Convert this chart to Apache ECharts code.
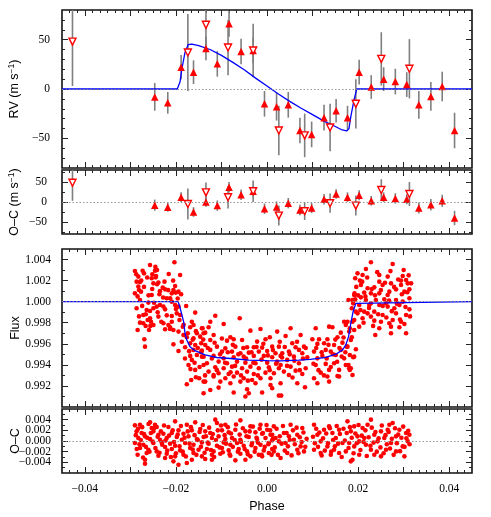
<!DOCTYPE html>
<html><head><meta charset="utf-8">
<script src="https://cdn.jsdelivr.net/npm/echarts@6/dist/echarts.min.js"></script>
<style>html,body{margin:0;padding:0;background:#fff}#c{width:491px;height:517px}</style>
</head><body><div id="c"></div>
<script>
// ---------------- DATA ----------------
// RV, filled triangles: phase, RV (m/s), error, O-C
const rvFilledPhase = [-0.02464,-0.02178,-0.01885,-0.01613,-0.01340,-0.01091,-0.00833,-0.00569,-0.00304,-0.00055,0.00210,0.00467,0.00723,0.00980,0.01252,0.01517,0.01767,0.02023,0.02288,0.02561,0.02817,0.03068,0.03333,0.03597,0.03846,0.04117];
const rvFilledValue = [-8,-14,22,17,41,25.5,66,38,39,-15,-18,-16,-42,-46,-29,-22,-29,17,2,10,7.5,4.5,-16,-7.5,2.5,-42];
const rvFilledErr   = [14,11,12.5,12,12,13,13,13,13,13,14,13,13,13,13,12,12,12.5,12,12,13,12.5,14,14.5,15,18];
const rvFilledResid = [-8,-13,12,-25,0,-9,37,18,27,-17,-12.5,-3,-20,-15,7,20,12,17,3,12,9,7,-15,-7,3,-40];
// RV, open inverted triangles
const rvOpenPhase = [-0.04270,-0.01737,-0.01340,-0.00855,-0.00304,0.00260,0.00827,0.01385,0.01950,0.02509,0.03126];
const rvOpenValue = [48,37,65,42,39,-42,-47,-39,-15,30.5,20.5];
const rvOpenErr   = [45,39,25,28,27,25,22,24,25,27,30];
const rvOpenResid = [48,-5,24,12,27,-34,-23,-3,-9,30,20];
// RV model curve
const rvModelPhase = [-0.045,-0.0197,-0.0191,-0.0187,-0.0180,-0.0173,-0.0165,-0.0150,-0.0125,-0.0100,-0.0075,-0.0050,-0.0025,0,0.0025,0.0050,0.0075,0.0100,0.0125,0.0150,0.0165,0.0175,0.0180,0.0184,0.0191,0.0197,0.045];
const rvModelValue = [0,0,7,20,37,45,45.5,44,40,34,27,19.5,11,3,-5,-12.5,-19.5,-26,-32.5,-38,-41.5,-42.5,-40,-28,-11,0,0];
// Flux model curve
const fluxModelPhase = [-0.045,-0.0195,-0.0190,-0.0186,-0.0183,-0.0180,-0.0176,-0.0169,-0.0158,-0.0136,-0.0110,-0.0073,-0.0040,0.0000,0.0030,0.0070,0.0095,0.0129,0.0151,0.0166,0.0173,0.0179,0.0184,0.0189,0.0195,0.0198,0.045];
const fluxModelValue = [1.0000,1.0000,0.9993,0.9986,0.9981,0.9970,0.99636,0.99573,0.99535,0.99494,0.99470,0.99458,0.99445,0.99440,0.99438,0.99445,0.99453,0.99472,0.99501,0.99542,0.99589,0.99668,0.99795,0.99905,0.99984,1.0000,1.0000];
// Photometry points [phase, relative flux]
const fluxPoints = [
[-0.02032,1.00374],[-0.02568,1.00348],[-0.02899,1.00291],[-0.02730,1.00294],[-0.02700,1.00269],[-0.02458,1.00294],[-0.02414,1.00301],[-0.02517,1.00260],[-0.02436,1.00244],[-0.02157,1.00263],
[-0.01907,1.00253],[-0.02825,1.00238],[-0.02531,1.00222],[-0.02443,1.00231],[-0.02862,1.00190],[-0.02788,1.00187],[-0.02494,1.00174],[-0.02414,1.00165],[-0.02384,1.00181],[-0.02825,1.00143],
[-0.02289,1.00133],[-0.02017,1.00149],[-0.02237,1.00117],[-0.02054,1.00111],[-0.02899,1.00079],[-0.02766,1.00095],[-0.02810,1.00111],[-0.02531,1.00064],[-0.02362,1.00070],[-0.02090,1.00079],
[-0.02002,1.00086],[-0.01885,1.00070],[-0.01943,1.00095],[-0.02201,1.00032],[-0.02127,1.00032],[-0.02788,1.00016],[-0.02605,0.99991],[-0.02348,0.99969],[-0.02421,0.99953],[-0.02494,0.99937],
[-0.02274,0.99953],[-0.02237,0.99927],[-0.02017,0.99969],[-0.01943,0.99953],[-0.01775,0.99959],[-0.02862,0.99937],[-0.02641,0.99921],[-0.02568,0.99912],[-0.02715,0.99874],[-0.02384,0.99858],
[-0.02090,0.99864],[-0.01980,0.99889],[-0.01907,0.99874],[-0.01921,0.99826],[-0.01576,0.99896],[-0.02788,0.99801],[-0.02715,0.99795],[-0.02619,0.99826],[-0.02568,0.99842],[-0.02546,0.99810],
[-0.02590,0.99731],[-0.02663,0.99769],[-0.02494,0.99779],[-0.02274,0.99795],[-0.02090,0.99810],[-0.02164,0.99779],[-0.02127,0.99757],[-0.02237,0.99738],[-0.01650,0.99810],[-0.01613,0.99779],
[-0.01686,0.99757],[-0.02840,0.99731],[-0.02054,0.99731],[-0.01943,0.99716],[-0.01848,0.99763],[-0.01833,0.99684],[-0.01760,0.99662],[-0.01414,0.99747],[-0.01539,0.99700],[-0.01613,0.99652],
[-0.01466,0.99668],[-0.01356,0.99706],[-0.02693,0.99643],[-0.02678,0.99573],[-0.02054,0.99595],[-0.01943,0.99532],[-0.01797,0.99567],[-0.01686,0.99605],[-0.01576,0.99589],[-0.01444,0.99605],
[-0.01613,0.99542],[-0.01539,0.99494],[-0.01429,0.99478],[-0.01686,0.99485],[-0.01650,0.99447],[-0.01723,0.99399],[-0.01576,0.99352],[-0.01488,0.99273],[-0.01561,0.99282],[-0.01664,0.99257],
[-0.01760,0.99216],[-0.01392,0.99241],
[-0.01135,0.99867],[-0.00599,0.99842],[-0.01245,0.99810],[-0.00951,0.99788],[-0.01429,0.99747],[-0.01282,0.99757],[-0.00364,0.99725],[-0.00143,0.99741],[0.00224,0.99716],[-0.01392,0.99700],
[-0.01172,0.99684],[-0.00804,0.99662],[-0.00731,0.99643],[-0.00878,0.99630],[-0.00547,0.99636],[-0.00033,0.99643],[0.00062,0.99662],[-0.00217,0.99621],[-0.01245,0.99636],[-0.01356,0.99589],
[-0.01098,0.99573],[-0.00915,0.99557],[-0.00694,0.99573],[-0.00437,0.99567],[-0.00290,0.99567],[-0.00107,0.99564],[0.00114,0.99573],[0.00261,0.99573],[-0.01429,0.99535],[-0.01245,0.99542],
[-0.00988,0.99526],[-0.00768,0.99526],[-0.00584,0.99510],[-0.00400,0.99516],[-0.00180,0.99526],[0.00004,0.99532],[0.00187,0.99510],[-0.01392,0.99478],[-0.01172,0.99485],[-0.00951,0.99462],
[-0.00731,0.99472],[-0.00511,0.99478],[-0.00290,0.99485],[-0.00070,0.99485],[0.00114,0.99472],[0.00298,0.99485],[-0.01319,0.99415],[-0.01062,0.99431],[-0.00878,0.99415],[-0.00658,0.99431],
[-0.00474,0.99421],[-0.00253,0.99415],[0.00004,0.99421],[0.00224,0.99431],[-0.01392,0.99399],[-0.01135,0.99377],[-0.00951,0.99368],[-0.00768,0.99383],[-0.00547,0.99368],[-0.00364,0.99383],
[-0.00180,0.99368],[0.00041,0.99377],[0.00261,0.99368],[-0.01282,0.99336],[-0.01062,0.99320],[-0.00841,0.99314],[-0.00658,0.99326],[-0.00437,0.99336],[-0.00290,0.99314],[-0.00033,0.99326],
[0.00151,0.99320],[-0.01172,0.99289],[-0.00915,0.99273],[-0.00731,0.99289],[-0.00511,0.99273],[-0.00327,0.99257],[-0.00143,0.99273],[0.00077,0.99273],[-0.01356,0.99241],[-0.01025,0.99241],
[-0.00804,0.99225],[-0.00584,0.99241],[-0.00253,0.99225],[0.00077,0.99209],[-0.01245,0.99162],[-0.01062,0.99184],[-0.00437,0.99168],[0.00114,0.99178],[-0.00107,0.99137],[-0.01392,0.99130],
[-0.00731,0.99137],[-0.00400,0.99130],[-0.00474,0.99099],[0.00261,0.99108],[-0.01172,0.99304],
[0.00518,0.99747],[0.01069,0.99747],[0.01363,0.99763],[0.01436,0.99757],[0.01693,0.99810],[0.01730,0.99779],[0.00408,0.99674],[0.00738,0.99684],[0.00995,0.99643],[0.01142,0.99643],
[0.01326,0.99643],[0.01620,0.99706],[0.01547,0.99662],[0.01804,0.99716],[0.00555,0.99605],[0.00628,0.99567],[0.00812,0.99573],[0.01106,0.99599],[0.01253,0.99605],[0.01473,0.99589],
[0.01657,0.99611],[0.01862,0.99662],[0.00334,0.99510],[0.00481,0.99526],[0.00702,0.99542],[0.00775,0.99510],[0.01032,0.99526],[0.01289,0.99542],[0.01399,0.99526],[0.01620,0.99542],
[0.01767,0.99573],[0.00444,0.99447],[0.00591,0.99478],[0.00885,0.99472],[0.01106,0.99462],[0.01216,0.99485],[0.01510,0.99494],[0.01693,0.99462],[0.01914,0.99478],[0.00298,0.99399],
[0.00518,0.99383],[0.00702,0.99415],[0.00849,0.99368],[0.01069,0.99399],[0.01289,0.99409],[0.01473,0.99415],[0.01730,0.99399],[0.00371,0.99336],[0.00628,0.99345],[0.01179,0.99326],
[0.01363,0.99352],[0.01583,0.99352],[0.01804,0.99368],[0.00481,0.99304],[0.00775,0.99314],[0.01032,0.99273],[0.01326,0.99289],[0.01547,0.99295],[0.01877,0.99304],[0.00298,0.99225],
[0.00665,0.99225],[0.01106,0.99225],[0.01363,0.99241],[0.01583,0.99289],[0.00834,0.99187],[0.00312,0.99108],[0.01951,0.99548],
[0.01789,1.00016],[0.01892,0.99984],[0.01936,1.00022],[0.01921,1.00079],[0.01862,0.99937],[0.01951,0.99905],[0.01877,0.99810],[0.01914,0.99731],[0.01818,0.99747],
[0.02281,1.00374],[0.02759,1.00358],[0.02171,1.00310],[0.01987,1.00269],[0.02098,1.00253],[0.01936,1.00222],[0.02039,1.00200],[0.02649,1.00238],[0.02979,1.00244],[0.02465,1.00190],
[0.02722,1.00174],[0.03053,1.00206],[0.02208,1.00127],[0.02355,1.00136],[0.02538,1.00158],[0.02942,1.00158],[0.03089,1.00174],[0.02832,1.00117],[0.03126,1.00117],[0.01914,1.00064],
[0.02134,1.00086],[0.02281,1.00079],[0.02465,1.00079],[0.02685,1.00095],[0.03016,1.00095],[0.01877,1.00016],[0.02061,1.00041],[0.02171,1.00016],[0.02391,1.00016],[0.02575,1.00022],
[0.02832,1.00016],[0.02979,1.00000],[0.03126,1.00032],[0.02024,0.99969],[0.02245,0.99969],[0.02465,0.99969],[0.02649,0.99953],[0.02796,0.99937],[0.02906,0.99969],[0.03126,0.99927],
[0.01987,0.99889],[0.02208,0.99889],[0.02355,0.99905],[0.02538,0.99874],[0.02832,0.99889],[0.03053,0.99874],[0.01914,0.99826],[0.02098,0.99842],[0.02355,0.99820],[0.02502,0.99810],
[0.02685,0.99795],[0.02942,0.99810],[0.02024,0.99763],[0.02465,0.99747],[0.02722,0.99763],[0.02906,0.99757],[0.03016,0.99788],[0.02377,0.99684],[0.02722,0.99700],[0.03053,0.99700],
[0.01767,0.99810],[0.01840,0.99636],[0.01752,0.99573],[0.01818,0.99494],[0.01892,0.99472],[0.01789,0.99399],[0.01840,0.99368],[0.01818,0.99352],[0.02061,1.00158],[0.02612,0.99984],
[0.02759,0.99826],[0.02281,0.99858],[0.02134,0.99905],[0.02465,1.00253],[0.02942,1.00200],[0.03163,1.00174],[0.02649,1.00064],[0.02281,0.99984],
[-0.02870,1.00260],[-0.02840,1.00050],[-0.02810,0.99860],[-0.02760,1.00200],[-0.02740,0.99960],[-0.02700,1.00140],[-0.02660,0.99880],[-0.02630,1.00230],[-0.02600,1.00060],[-0.02560,0.99770],
[-0.02520,1.00120],[-0.02480,0.99990],[-0.02450,1.00330],[-0.02400,0.99900],[-0.02350,1.00100],[-0.02320,0.99810],[-0.02280,1.00040],[-0.02250,1.00190],[-0.02200,0.99870],[-0.02170,1.00110],
[-0.02130,0.99740],[-0.02090,1.00000],[-0.02060,1.00200],[-0.02000,0.99930],[-0.01960,1.00030],
[-0.01870,0.99620],[-0.01830,0.99780],[-0.01800,0.99460],[-0.01740,0.99700],[-0.01710,0.99530],[-0.01680,0.99360],[-0.01630,0.99640],[-0.01590,0.99420],[-0.01560,0.99720],[-0.01520,0.99560],
[-0.01480,0.99380],[-0.01450,0.99520],[-0.01400,0.99640],[-0.01360,0.99300],
[-0.01300,0.99560],[-0.01210,0.99460],[-0.01150,0.99610],[-0.01100,0.99350],[-0.01030,0.99500],[-0.00990,0.99650],[-0.00920,0.99420],[-0.00860,0.99520],[-0.00800,0.99330],[-0.00750,0.99590],
[-0.00700,0.99390],[-0.00630,0.99500],[-0.00570,0.99300],[-0.00520,0.99560],[-0.00460,0.99460],[-0.00420,0.99250],[-0.00340,0.99520],[-0.00300,0.99420],[-0.00230,0.99570],[-0.00200,0.99300],
[-0.00120,0.99450],[-0.00080,0.99600],[0.00020,0.99490],[0.00060,0.99350],[0.00130,0.99540],[0.00200,0.99410],[0.00280,0.99620],[0.00330,0.99470],[0.00390,0.99570],[0.00440,0.99390],
[0.00500,0.99500],[0.00560,0.99280],[0.00600,0.99440],[0.00660,0.99620],[0.00720,0.99350],[0.00790,0.99460],[0.00850,0.99560],
[0.01020,0.99410],[0.01080,0.99560],[0.01130,0.99350],[0.01200,0.99520],[0.01250,0.99300],[0.01310,0.99460],[0.01350,0.99590],[0.01400,0.99380],[0.01450,0.99500],[0.01500,0.99640],
[0.01540,0.99430],[0.01590,0.99560],[0.01640,0.99480],[0.01680,0.99660],[0.01720,0.99520],
[0.01960,1.00140],[0.02000,1.00060],[0.02050,0.99920],[0.02090,1.00190],[0.02120,0.99800],[0.02160,1.00050],[0.02200,1.00230],[0.02240,0.99940],[0.02300,1.00120],[0.02330,0.99770],
[0.02370,1.00060],[0.02420,1.00280],[0.02440,0.99880],[0.02500,1.00110],[0.02540,0.99960],[0.02590,1.00180],[0.02620,0.99850],[0.02680,1.00010],[0.02710,1.00290],[0.02740,0.99910],
[0.02790,1.00140],[0.02850,0.99980],[0.02880,1.00210],[0.02920,0.99830],[0.02960,1.00070],[0.03000,1.00300],[0.03040,0.99950],[0.03080,1.00090],[0.03110,1.00250],[0.03140,0.99860]
];
// Photometry residuals [phase, O-C]
const fluxResid = [
[-0.02899,0.00293],[-0.02788,0.00306],[-0.02568,0.00350],[-0.02458,0.00306],[-0.02421,0.00262],[-0.02531,0.00243],[-0.02164,0.00262],[-0.02017,0.00368],[-0.01760,0.00306],[-0.01576,0.00350],
[-0.01135,0.00400],[-0.01099,0.00337],[-0.00915,0.00306],[-0.00584,0.00387],[-0.00364,0.00275],[-0.00143,0.00306],[0.00004,0.00212],[0.00150,0.00275],
[-0.02862,0.00181],[-0.02752,0.00149],[-0.02494,0.00181],[-0.02384,0.00118],[-0.02274,0.00137],[-0.02090,0.00149],[-0.01943,0.00200],[-0.01833,0.00137],[-0.01650,0.00200],[-0.01466,0.00225],
[-0.01356,0.00181],[-0.01246,0.00149],[-0.00988,0.00200],[-0.00841,0.00162],[-0.00695,0.00212],[-0.00474,0.00181],[-0.00254,0.00162],[-0.00107,0.00137],[0.00077,0.00118],
[-0.02825,0.00056],[-0.02678,0.00087],[-0.02568,0.00037],[-0.02348,0.00024],[-0.02201,0.00056],[-0.01980,0.00074],[-0.01870,0.00024],[-0.01723,0.00087],[-0.01539,0.00037],[-0.01392,0.00074],
[-0.01209,0.00056],[-0.01062,0.00087],[-0.00915,0.00037],[-0.00768,0.00056],[-0.00584,0.00024],[-0.00401,0.00074],[-0.00217,0.00037],[-0.00033,0.00056],[0.00114,0.00012],
[-0.02899,-0.00038],[-0.02715,-0.00070],[-0.02494,-0.00038],[-0.02311,-0.00026],[-0.02127,-0.00051],[-0.02017,-0.00088],[-0.01797,-0.00038],[-0.01613,-0.00070],[-0.01429,-0.00026],[-0.01282,-0.00051],
[-0.01099,-0.00088],[-0.00952,-0.00026],[-0.00805,-0.00070],[-0.00658,-0.00038],[-0.00511,-0.00088],[-0.00327,-0.00038],[-0.00143,-0.00070],[0.00040,-0.00038],
[-0.02788,-0.00132],[-0.02605,-0.00163],[-0.02421,-0.00195],[-0.02237,-0.00113],[-0.02090,-0.00151],[-0.01907,-0.00176],[-0.01686,-0.00132],[-0.01503,-0.00163],[-0.01319,-0.00151],[-0.01172,-0.00195],
[-0.00988,-0.00132],[-0.00841,-0.00176],[-0.00621,-0.00151],[-0.00437,-0.00195],[-0.00254,-0.00132],[-0.00070,-0.00176],[0.00114,-0.00151],
[-0.02840,-0.00257],[-0.02641,-0.00226],[-0.02384,-0.00276],[-0.02201,-0.00238],[-0.02017,-0.00288],[-0.01833,-0.00257],[-0.01613,-0.00226],[-0.01429,-0.00288],[-0.01209,-0.00257],[-0.01025,-0.00238],
[-0.00805,-0.00276],[-0.00584,-0.00238],[-0.00364,-0.00288],[-0.00180,-0.00257],[0.00040,-0.00226],
[-0.02678,-0.00351],[-0.02237,-0.00320],[-0.02054,-0.00382],[-0.01650,-0.00351],[-0.01356,-0.00338],[-0.01209,-0.00351],[-0.00474,-0.00351],[-0.00107,-0.00288],[-0.02678,-0.00426],[-0.01943,-0.00445],
[-0.01760,-0.00413],[-0.00695,-0.00363],
[0.00114,0.00118],[0.00187,0.00056],[0.00261,-0.00007],[0.00371,0.00149],[0.00408,-0.00038],[0.00518,0.00306],[0.00481,0.00087],[0.00591,0.00024],[0.00665,0.00118],[0.00775,0.00243],
[0.00738,-0.00101],[0.00812,-0.00195],[0.00151,-0.00195],[0.00298,-0.00320],[0.00445,-0.00226],[0.00665,-0.00163],
[0.01032,0.00306],[0.01106,0.00118],[0.01179,-0.00007],[0.01253,0.00212],[0.01363,0.00275],[0.01436,0.00149],[0.01510,0.00056],[0.01583,0.00212],[0.01326,-0.00101],[0.01473,-0.00163],
[0.01657,-0.00038],[0.01032,-0.00163],[0.01179,-0.00226],[0.01400,-0.00257],[0.01583,-0.00226],
[0.01767,0.00368],[0.01840,0.00181],[0.01914,0.00275],[0.01987,0.00087],[0.02098,0.00243],[0.02208,0.00306],[0.02281,0.00400],[0.01804,-0.00038],[0.01914,-0.00101],[0.02024,-0.00007],
[0.02171,-0.00070],[0.02281,-0.00163],[0.02355,0.00118],[0.02428,-0.00007],[0.02502,0.00181],[0.02575,0.00056],[0.02685,0.00306],[0.02759,0.00337],[0.02722,-0.00038],[0.02832,0.00087],
[0.02906,0.00212],[0.02979,-0.00101],[0.03053,0.00149],[0.03089,-0.00007],[0.03016,-0.00288],[0.02832,-0.00195],[0.02612,-0.00163],[0.02502,-0.00288],[0.02355,-0.00257],[0.01840,-0.00382],
[0.01877,-0.00351],[0.02024,-0.00257],[0.01730,-0.00195],[0.02134,0.00056],[0.02649,0.00212],[0.03126,0.00118],
[-0.02880,0.00110],[-0.02860,-0.00150],[-0.02830,0.00230],[-0.02800,-0.00060],[-0.02770,0.00020],[-0.02740,0.00260],[-0.02720,-0.00310],[-0.02700,0.00130],[-0.02660,-0.00110],[-0.02630,0.00060],
[-0.02600,0.00320],[-0.02580,-0.00200],[-0.02550,0.00150],[-0.02510,-0.00010],[-0.02480,0.00240],[-0.02450,-0.00130],[-0.02400,0.00080],[-0.02360,-0.00220],[-0.02330,0.00180],[-0.02300,-0.00070],
[-0.02260,0.00290],[-0.02230,0.00010],[-0.02190,-0.00180],[-0.02150,0.00100],[-0.02110,-0.00300],[-0.02070,0.00200],[-0.02040,-0.00020],[-0.02000,-0.00230],[-0.01960,0.00120],[-0.01920,-0.00100],
[-0.01890,0.00280],[-0.01850,-0.00200],[-0.01810,0.00060],[-0.01780,-0.00290],[-0.01740,0.00180],[-0.01700,-0.00050],[-0.01670,0.00260],[-0.01630,-0.00160],[-0.01590,0.00110],[-0.01550,-0.00260],
[-0.01520,0.00020],[-0.01480,0.00170],[-0.01450,-0.00110],[-0.01410,0.00300],[-0.01370,-0.00220],[-0.01340,0.00090],[-0.01300,-0.00030],[-0.01270,0.00250],[-0.01230,-0.00170],[-0.01190,0.00130],
[-0.01160,-0.00300],[-0.01120,0.00020],[-0.01080,0.00200],[-0.01040,-0.00120],[-0.01010,0.00290],[-0.00970,-0.00210],[-0.00930,0.00110],[-0.00900,-0.00050],[-0.00860,0.00260],[-0.00820,-0.00250],
[-0.00790,0.00140],[-0.00750,-0.00110],[-0.00710,0.00020],[-0.00680,0.00310],[-0.00640,-0.00200],[-0.00600,0.00120],[-0.00570,-0.00020],[-0.00530,0.00240],[-0.00490,-0.00150],[-0.00450,0.00090],
[-0.00420,-0.00250],[-0.00380,0.00180],[-0.00340,-0.00080],[-0.00310,0.00270],[-0.00270,-0.00200],[-0.00230,0.00060],[-0.00200,-0.00030],[-0.00160,0.00230],[-0.00120,-0.00260],[-0.00090,0.00150],
[-0.00050,-0.00110],[-0.00010,0.00300],[0.00030,-0.00060],[0.00070,0.00200],[0.00100,-0.00260],[0.00130,0.00040],
[0.00170,-0.00120],[0.00210,0.00230],[0.00240,-0.00260],[0.00280,0.00090],[0.00320,-0.00050],[0.00350,0.00280],[0.00390,-0.00180],[0.00430,0.00150],[0.00460,-0.00100],[0.00500,0.00020],
[0.00540,-0.00270],[0.00570,0.00200],[0.00610,-0.00060],[0.00650,0.00250],[0.00690,-0.00230],[0.00720,0.00070],[0.00760,-0.00020],[0.00800,0.00160],[0.00840,-0.00110],[0.00870,0.00040],
[0.01010,0.00080],[0.01050,-0.00040],[0.01080,0.00230],[0.01120,-0.00110],[0.01150,0.00160],[0.01200,-0.00270],[0.01230,0.00050],[0.01270,-0.00180],[0.01300,0.00140],[0.01340,-0.00040],
[0.01380,0.00240],[0.01410,-0.00200],[0.01450,0.00020],[0.01490,-0.00100],[0.01530,0.00280],[0.01560,-0.00050],[0.01600,0.00130],[0.01640,-0.00300],[0.01680,0.00230],[0.01710,0.00010],
[0.01750,0.00150],[0.01790,-0.00130],[0.01820,0.00260],[0.01860,0.00060],[0.01900,-0.00230],[0.01940,0.00140],[0.01970,-0.00040],[0.02010,0.00300],[0.02050,-0.00170],[0.02080,0.00100],
[0.02120,-0.00020],[0.02160,0.00200],[0.02190,-0.00280],[0.02230,0.00070],[0.02270,-0.00090],[0.02300,0.00250],[0.02340,-0.00030],[0.02380,0.00170],[0.02410,-0.00200],[0.02450,0.00050],
[0.02490,-0.00120],[0.02520,0.00290],[0.02560,-0.00230],[0.02600,0.00110],[0.02630,-0.00060],[0.02670,0.00170],[0.02700,-0.00140],[0.02740,0.00040],[0.02780,-0.00260],[0.02810,0.00240],
[0.02850,-0.00040],[0.02880,0.00120],[0.02920,-0.00190],[0.02950,0.00060],[0.02990,0.00270],[0.03020,-0.00110],[0.03060,0.00050],[0.03100,0.00190],[0.03130,-0.00060]
];
// Reference (dotted) levels and axis tick values
const refLevels = [0, 0, 1.0, 0];
const phaseLabels = [-0.04,-0.02,0,0.02,0.04];
const phaseMajor = [-0.04,-0.03,-0.02,-0.01,0,0.01,0.02,0.03,0.04];

// ---------------- LAYOUT ----------------
const LEFT = 62, RIGHT = 19;
const grids = [
  {top:10, height:158},
  {top:170, height:64},
  {top:249, height:158},
  {top:409, height:64}
];
const phaseMinor = [];
for (let k = -26; k <= 26; k++) { if (k % 6 !== 0) phaseMinor.push(k / 600); }

const minus = s => String(s).replace('-', '\u2212');
const yCfg = [
  {min:-80, max:80, major:[-50,0,50], labels:[[-50,0,50]], minor:[-70,-60,-40,-30,-20,-10,10,20,30,40,60,70], fmt:v=>minus(Math.round(v)), name:'RV (m s{sup|\u22121})', margin:12},
  {min:-80, max:80, major:[-50,0,50], labels:[[-50,0,50]], minor:[-75,-25,25,75], fmt:v=>minus(Math.round(v)), name:'O\u2013C (m s{sup|\u22121})', margin:15},
  {min:0.990, max:1.005, major:[0.992,0.994,0.996,0.998,1.000,1.002,1.004], labels:[[0.992,0.994,0.996,0.998,1.000,1.002,1.004]], minor:[0.991,0.993,0.995,0.997,0.999,1.001,1.003], fmt:v=>minus(v.toFixed(3)), name:'Flux', margin:11},
  {min:-0.006, max:0.006, major:[-0.004,-0.002,0,0.002,0.004], labels:[[-0.004,0,0.004],[-0.002,0.002]], minor:[-0.005,-0.003,-0.001,0.001,0.003,0.005], fmt:v=>minus(v.toFixed(3)), name:'O\u2013C', margin:11}
];
const TICK = '#222';
const labelFont = {fontFamily:'Liberation Serif', fontSize:11.5, color:'#000'};
const nameFont = {fontFamily:'Liberation Sans', fontSize:12.5, color:'#000',
  rich:{sup:{fontFamily:'Liberation Sans', fontSize:8.5, verticalAlign:'top', color:'#000', padding:[0,0,6,0]}}};

const xAxes = [], yAxes = [], extraY = [];
grids.forEach((g, gi) => {
  const specs = [
    {pos:'bottom', ticks:phaseMajor, len:6, main:true},
    {pos:'top', ticks:phaseMajor, len:6},
    {pos:'bottom', ticks:phaseMinor, len:3},
    {pos:'top', ticks:phaseMinor, len:3}
  ];
  specs.forEach(s => {
    const showLab = s.main && gi === 3;
    xAxes.push({
      type:'value', gridIndex:gi, position:s.pos, min:-0.045, max:0.045,
      axisLine:{show:false, onZero:false}, splitLine:{show:false},
      axisTick:{show:true, inside:true, length:s.len, customValues:s.ticks, lineStyle:{color:TICK, width:1}},
      axisLabel:{show:showLab, customValues:phaseLabels, interval:0, margin:10, hideOverlap:false, showMinLabel:true, showMaxLabel:true,
        formatter:v=>minus(v.toFixed(2)), ...labelFont},
      name: showLab ? 'Phase' : '', nameLocation:'middle', nameGap:27, nameMoveOverlap:false,
      nameTextStyle:{fontFamily:'Liberation Sans', fontSize:12.5, color:'#000'}
    });
  });
  const c = yCfg[gi];
  const ySpecs = [
    {pos:'left', ticks:c.major, len:6, main:true},
    {pos:'right', ticks:c.major, len:6},
    {pos:'left', ticks:c.minor, len:3},
    {pos:'right', ticks:c.minor, len:3}
  ];
  ySpecs.forEach(s => {
    yAxes.push({
      type:'value', gridIndex:gi, position:s.pos, min:c.min, max:c.max,
      axisLine:{show:false, onZero:false}, splitLine:{show:false},
      axisTick:{show:true, inside:true, length:s.len, customValues:s.ticks, lineStyle:{color:TICK, width:1}},
      axisLabel:{show:!!s.main, customValues:c.labels[0], interval:0, margin:c.margin, hideOverlap:false, showMinLabel:true, showMaxLabel:true,
        formatter:c.fmt, ...labelFont},
      name: s.main ? c.name : '', nameLocation:'middle', nameGap:40, nameRotate:90, nameMoveOverlap:false,
      nameTextStyle: nameFont
    });
  });
  // extra label-only axes (tightly spaced labels split so none get suppressed)
  c.labels.slice(1).forEach(lv => {
    extraY.push({
      type:'value', gridIndex:gi, position:'left', min:c.min, max:c.max,
      axisLine:{show:false, onZero:false}, splitLine:{show:false}, axisTick:{show:false},
      axisLabel:{show:true, customValues:lv, interval:0, margin:c.margin, hideOverlap:false, showMinLabel:true, showMaxLabel:true,
        formatter:c.fmt, ...labelFont}
    });
  });
});

function errRender(params, api) {
  const x = api.value(0), v = api.value(1), e = api.value(2);
  const top = api.coord([x, v + e]), bot = api.coord([x, v - e]);
  const cs = params.coordSys;
  const y1 = Math.max(top[1], cs.y), y2 = Math.min(bot[1], cs.y + cs.height);
  return {type:'line', shape:{x1:top[0], y1:y1, x2:top[0], y2:y2}, style:{stroke:'#7f7f7f', lineWidth:1.6}};
}
const RED = '#ff0000', BLUE = '#0000ff';
const zip3 = (a, b, c) => a.map((v, i) => [v, b[i], c[i]]);
const zip2 = (a, b) => a.map((v, i) => [v, b[i]]);
const refLine = (lvl) => ({silent:true, symbol:'none', label:{show:false},
  lineStyle:{type:[1.5,2], color:'#8a8a8a', width:0.9}, data:[{yAxis:lvl}], animation:false});

const series = [];
function addRV(gi, vals, valsOpen, withModel) {
  const ax = {xAxisIndex:gi*4, yAxisIndex:gi*4};
  series.push({type:'custom', ...ax, renderItem:errRender, encode:{x:0, y:1}, z:1,
    data: zip3(rvFilledPhase, vals, rvFilledErr), markLine: refLine(refLevels[gi])});
  series.push({type:'custom', ...ax, renderItem:errRender, encode:{x:0, y:1}, z:1,
    data: zip3(rvOpenPhase, valsOpen, rvOpenErr)});
  if (withModel) {
    series.push({type:'line', ...ax, data: zip2(rvModelPhase, rvModelValue), showSymbol:false, symbol:'none',
      lineStyle:{color:BLUE, width:1.3}, z:2});
  }
  series.push({type:'scatter', ...ax, symbol:'triangle', symbolSize:7.5, z:3,
    itemStyle:{color:RED, opacity:1}, data: zip2(rvFilledPhase, vals)});
  series.push({type:'scatter', ...ax, symbol:'triangle', symbolRotate:180, symbolSize:7, z:3,
    itemStyle:{color:'#fff', borderColor:RED, borderWidth:1.4, opacity:1}, data: zip2(rvOpenPhase, valsOpen)});
}
addRV(0, rvFilledValue, rvOpenValue, true);
addRV(1, rvFilledResid, rvOpenResid, false);

series.push({type:'scatter', xAxisIndex:8, yAxisIndex:8, symbol:'circle', symbolSize:4.6, z:2,
  itemStyle:{color:RED, opacity:1}, data: fluxPoints, markLine: refLine(refLevels[2])});
series.push({type:'line', xAxisIndex:8, yAxisIndex:8, data: zip2(fluxModelPhase, fluxModelValue), showSymbol:false, symbol:'none',
  lineStyle:{color:BLUE, width:1.3}, z:3});
series.push({type:'scatter', xAxisIndex:12, yAxisIndex:12, symbol:'circle', symbolSize:4.6, z:2,
  itemStyle:{color:RED, opacity:1}, data: fluxResid, markLine: refLine(refLevels[3])});

const chart = echarts.init(document.getElementById('c'), null, {renderer:'canvas'});
chart.setOption({
  animation:false,
  backgroundColor:'#fff',
  grid: grids.map(g => ({left:LEFT, right:RIGHT, top:g.top, height:g.height, show:true,
    borderColor:'#111', borderWidth:1.6, backgroundColor:'transparent', containLabel:false, outerBoundsMode:'none'})),
  xAxis: xAxes,
  yAxis: yAxes.concat(extraY),
  series: series
});
</script></body></html>
